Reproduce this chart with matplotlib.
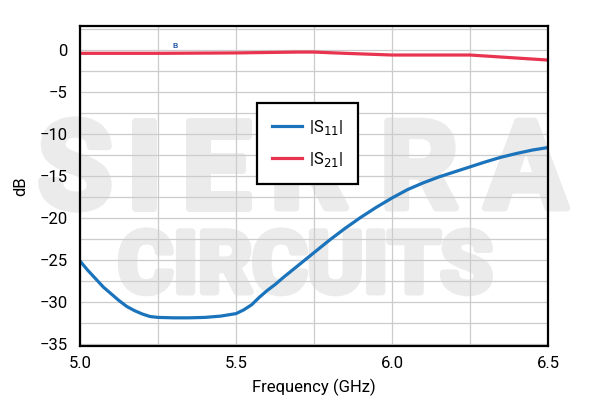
import matplotlib
matplotlib.use("Agg")
import matplotlib.pyplot as plt
import matplotlib.patheffects as pe
from matplotlib.ticker import MultipleLocator

plt.rcParams['font.family'] = ['Roboto', 'DejaVu Sans']

# S11
f_s11 = [5.0, 5.025, 5.05, 5.075, 5.1, 5.125, 5.15, 5.175, 5.2, 5.225, 5.25,
         5.3, 5.35, 5.4, 5.45, 5.5, 5.525, 5.55, 5.575, 5.6, 5.625, 5.65,
         5.7, 5.75, 5.8, 5.85, 5.9, 5.95, 6.0, 6.05, 6.1, 6.15, 6.2, 6.25,
         6.3, 6.35, 6.4, 6.45, 6.5]
s11 = [-25.1, -26.2, -27.2, -28.2, -29.0, -29.8, -30.5, -31.0, -31.4, -31.7, -31.8,
       -31.85, -31.85, -31.8, -31.65, -31.35, -30.9, -30.3, -29.4, -28.6, -27.9, -27.1,
       -25.6, -24.1, -22.6, -21.2, -19.9, -18.7, -17.6, -16.6, -15.8, -15.1, -14.5, -13.9,
       -13.3, -12.75, -12.3, -11.9, -11.6]

# S21
f_s21 = [5.0, 5.25, 5.5, 5.6, 5.7, 5.75, 5.85, 6.0, 6.25, 6.5]
s21 = [-0.4, -0.4, -0.35, -0.3, -0.25, -0.25, -0.4, -0.6, -0.6, -1.2]

xticks = [5.0, 5.5, 6.0, 6.5]
yticks = [0, -5, -10, -15, -20, -25, -30, -35]

W, H = 596, 419
fig = plt.figure(figsize=(W / 100, H / 100), dpi=100)
ax = fig.add_axes([80 / W, 1 - 346 / H, 468 / W, 320 / H])
ax.patch.set_alpha(0)

# watermark
wm = '#ebebeb'
thick = [pe.withStroke(linewidth=5, foreground=wm)]
for ch, cx in zip("SIERRA", [75, 144, 216, 309, 419, 526]):
    fig.text(cx / W, 1 - 208 / H, ch, fontsize=88, fontweight='bold', color=wm,
             ha='center', va='baseline', zorder=-5, path_effects=thick)
fig.text(305 / W, 1 - 292 / H, "CIRCUITS", fontsize=61, fontweight='bold', color=wm,
         ha='center', va='baseline', zorder=-5, path_effects=thick)

ax.plot(f_s11, s11, color='#1a73bb', lw=2.3, label='|S$_{11}$|')
ax.plot(f_s21, s21, color='#e8344f', lw=2.3, label='|S$_{21}$|')

ax.set_xlim(5.0, 6.5)
ax.set_ylim(-35.2, 2.85)
ax.set_xticks(xticks)
ax.set_xticklabels(['%.1f' % v for v in xticks])
ax.set_yticks(yticks)
ax.xaxis.set_minor_locator(MultipleLocator(0.25))
ax.yaxis.set_minor_locator(MultipleLocator(2.5))
ax.grid(True, which='both', color='#cccccc', lw=0.9)
ax.set_axisbelow(True)
ax.tick_params(which='both', length=0)
ax.tick_params(axis='x', pad=7, labelsize=12)
ax.tick_params(axis='y', pad=9, labelsize=12)
for s in ax.spines.values():
    s.set_color('black')
    s.set_linewidth(1.6)

ax.set_xlabel('Frequency (GHz)', fontsize=12, labelpad=6)
ax.set_ylabel('dB', fontsize=12, labelpad=8)

leg = ax.legend(loc='upper left', bbox_to_anchor=(0.378, 0.759), fontsize=12,
                frameon=True, fancybox=False, borderpad=0.9, labelspacing=0.75,
                handlelength=1.8, handletextpad=0.4, borderaxespad=0)
leg.get_frame().set_edgecolor('black')
leg.get_frame().set_linewidth(1.6)
leg.get_frame().set_alpha(1)

fig.text(175 / W, 1 - 45 / H, 'B', fontsize=6, fontweight='bold', color='#2a5ea8',
         ha='center', va='center')

fig.savefig('out.png', dpi=100)
